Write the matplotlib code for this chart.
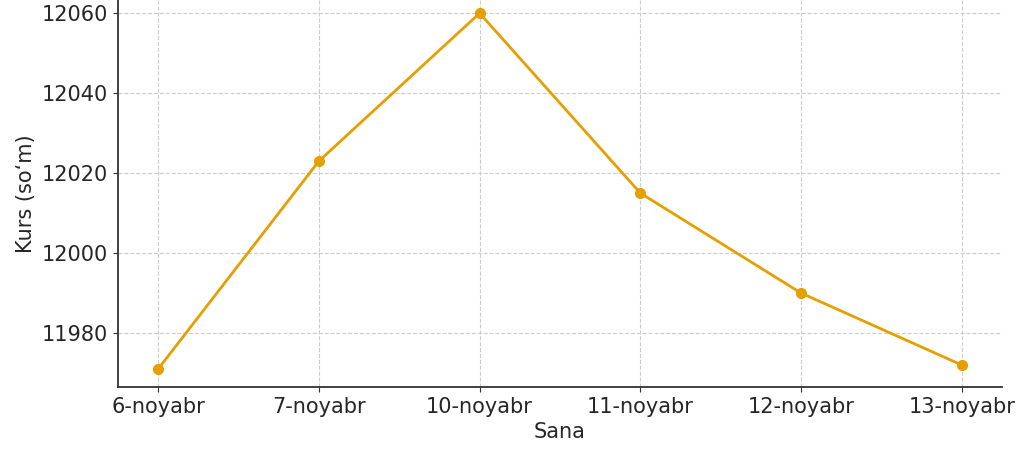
import matplotlib
matplotlib.use("Agg")
import matplotlib.pyplot as plt

# data
dates = ["6-noyabr", "7-noyabr", "10-noyabr", "11-noyabr", "12-noyabr", "13-noyabr"]
rates = [11971, 12023, 12060, 12015, 11990, 11972]

fig = plt.figure(figsize=(10.24, 4.58), dpi=100)
ax = fig.add_axes([0.1152, 0.155, 0.8633, 0.845])

ax.plot(dates, rates, color="#E69F00", lw=2, marker="o", markersize=7)

ax.set_xlim(-0.25, 5.25)
ax.set_ylim(11966.5, 12063.3)
ax.set_yticks([11980, 12000, 12020, 12040, 12060])

ax.grid(True, linestyle="--", color="#cccccc", linewidth=0.8)
ax.spines["top"].set_visible(False)
ax.spines["right"].set_visible(False)
ax.spines["left"].set_linewidth(1.3)
ax.spines["bottom"].set_linewidth(1.3)
ax.spines["left"].set_color("#333333")
ax.spines["bottom"].set_color("#333333")
ax.tick_params(labelsize=15, colors="#333333", labelcolor="#262626")

ax.set_xlabel("Sana", fontsize=15, color="#262626")
ax.set_ylabel("Kurs (so‘m)", fontsize=15, color="#262626")

fig.savefig("out.png", dpi=100)
